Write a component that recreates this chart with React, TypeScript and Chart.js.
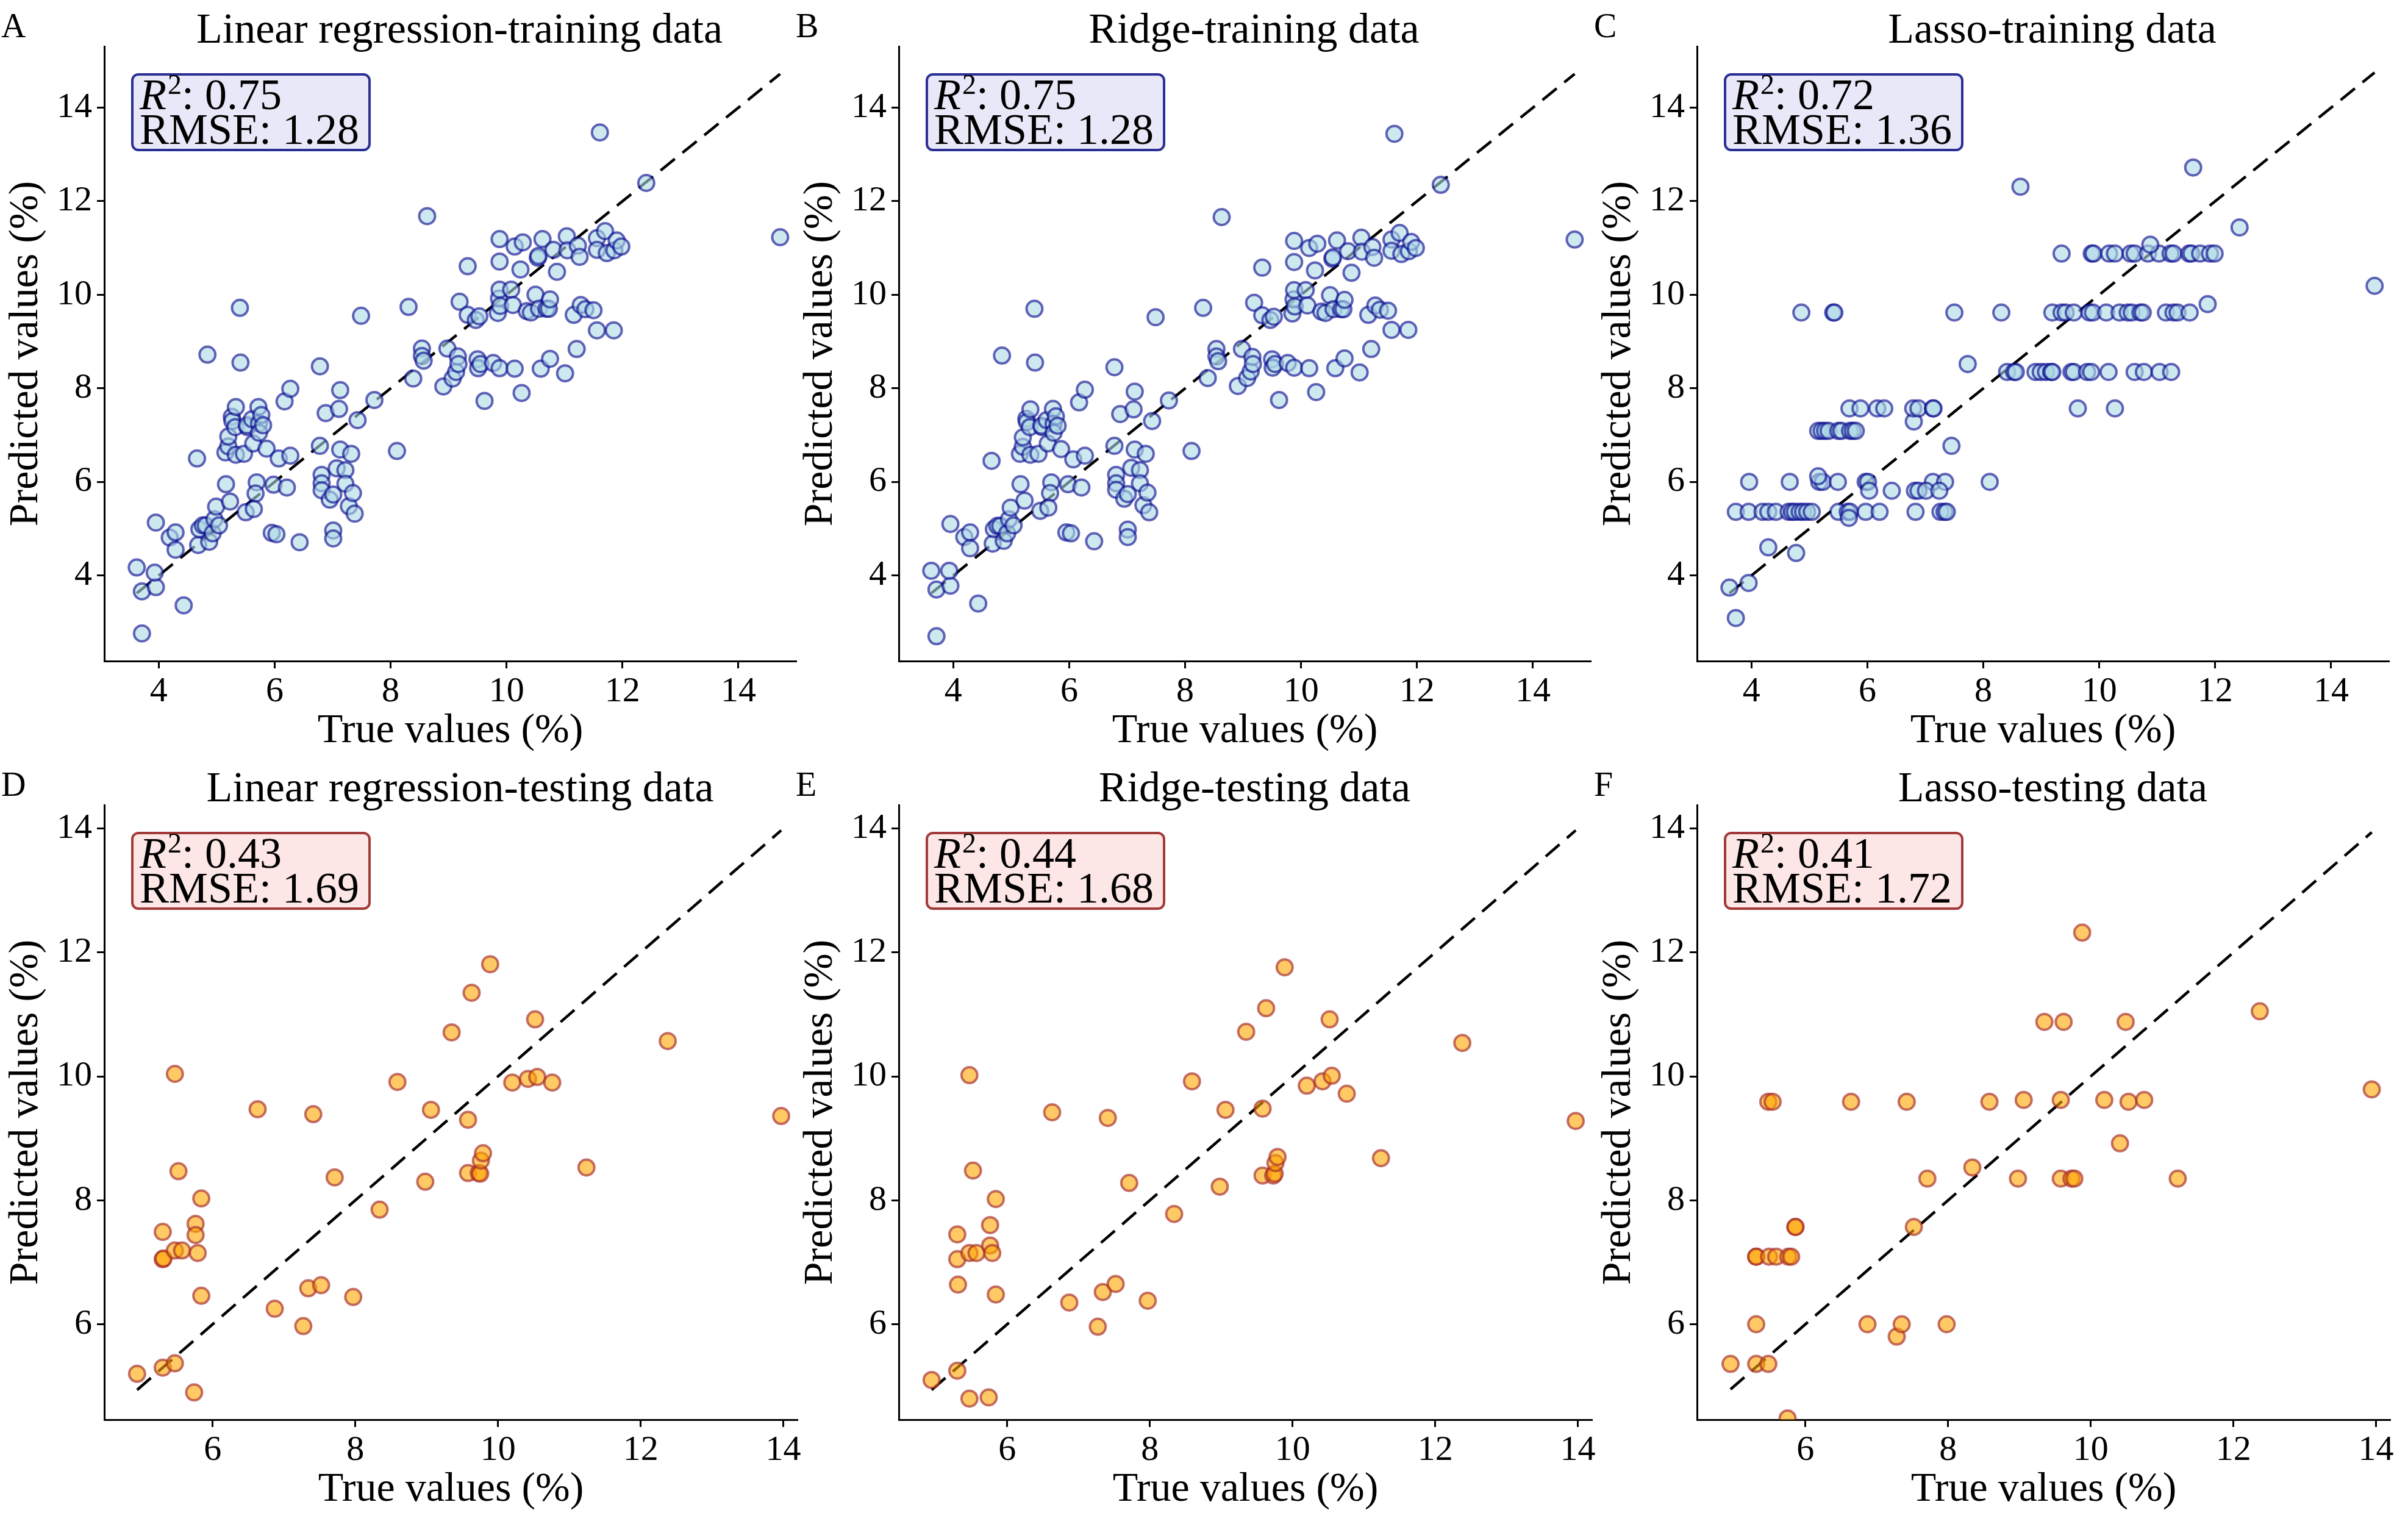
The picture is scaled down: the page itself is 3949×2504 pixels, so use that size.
import React, { useEffect, useRef } from "react";
import { Chart, registerables } from "chart.js";
Chart.register(...registerables);

const FONT = "'Liberation Serif', 'Times New Roman', Times, serif";

// ---------- Data ----------
const lrTrainTrue = [3.62,3.71,3.95,3.93,3.71,4.43,3.95,4.19,4.29,4.29,4.66,4.68,4.70,4.76,4.81,4.87,4.93,4.96,4.99,5.04,4.84,5.16,5.23,5.15,5.20,5.20,5.26,5.27,5.33,5.32,5.40,5.41,5.33,5.47,5.50,5.53,5.52,5.61,5.63,5.69,5.67,5.64,5.72,5.73,5.77,5.73,5.80,5.86,5.98,5.95,6.03,6.07,6.17,6.21,6.27,6.27,6.43,6.78,6.78,6.81,6.81,6.81,6.88,6.95,7.01,7.01,7.01,7.07,7.11,7.13,7.13,7.22,7.22,7.28,7.32,7.35,7.38,7.43,7.49,7.72,8.11,8.31,8.39,8.54,8.54,8.57,8.63,8.91,8.98,9.07,9.13,9.16,9.17,9.19,9.33,9.33,9.47,9.50,9.53,9.51,9.55,9.62,9.77,9.85,9.87,9.88,9.88,9.88,9.88,9.89,10.08,10.11,10.14,10.14,10.24,10.26,10.28,10.35,10.42,10.50,10.54,10.55,10.56,10.59,10.62,10.69,10.73,10.75,10.75,10.81,10.87,11.01,11.04,11.05,11.16,11.21,11.23,11.26,11.28,11.36,11.50,11.56,11.56,11.56,11.61,11.70,11.73,11.85,11.86,11.90,11.98,12.41,14.72];
const lrTrainPred = [4.17,3.66,3.75,4.06,2.76,3.36,5.13,4.81,4.92,4.55,6.50,4.65,4.99,5.07,5.07,4.72,4.90,5.20,5.47,5.07,8.72,5.95,5.58,6.63,6.76,6.97,7.39,7.30,7.60,7.17,9.72,8.55,6.58,6.60,5.35,7.17,7.21,7.34,6.82,5.99,5.75,5.42,7.60,7.25,7.43,7.05,7.21,6.71,5.94,4.91,4.88,6.50,7.72,5.88,7.99,6.56,4.71,8.47,6.77,6.15,5.97,5.82,7.47,5.62,5.73,4.96,4.79,6.29,7.56,7.96,6.69,6.25,5.96,5.48,6.60,5.76,5.32,7.32,9.55,7.75,6.66,9.74,8.21,8.85,8.69,8.59,11.68,8.04,8.85,8.21,8.35,8.68,8.52,9.85,10.61,9.57,9.46,8.62,9.54,8.43,8.52,7.73,8.54,9.61,9.92,11.19,10.71,10.11,8.43,9.76,10.11,9.78,8.42,11.03,10.54,7.90,11.12,9.65,9.62,10.00,10.79,10.83,9.70,8.42,11.19,9.70,9.70,9.90,8.63,10.96,10.49,8.32,11.25,10.95,9.57,8.84,11.05,10.81,9.78,9.69,9.67,9.24,11.21,10.96,13.47,11.36,10.89,9.24,10.95,11.16,11.03,12.39,11.23];
const ridgeTrainTrue = lrTrainTrue;
const ridgeTrainPred = [4.10,3.70,3.78,4.10,2.70,3.40,5.10,4.82,4.92,4.58,6.45,4.68,4.99,5.06,5.06,4.74,4.90,5.20,5.45,5.07,8.70,5.95,5.60,6.60,6.75,6.95,7.35,7.28,7.55,7.17,9.70,8.55,6.58,6.60,5.38,7.17,7.20,7.32,6.82,5.99,5.76,5.45,7.56,7.24,7.40,7.05,7.20,6.70,5.95,4.92,4.90,6.48,7.70,5.88,7.97,6.56,4.73,8.45,6.77,6.15,5.97,5.83,7.45,5.64,5.74,4.98,4.82,6.30,7.55,7.93,6.69,6.25,5.97,5.50,6.60,5.77,5.35,7.30,9.52,7.74,6.66,9.72,8.22,8.84,8.68,8.58,11.66,8.05,8.84,8.22,8.36,8.67,8.52,9.83,10.58,9.56,9.46,8.62,9.53,8.44,8.52,7.75,8.54,9.60,9.90,11.15,10.70,10.10,8.44,9.75,10.10,9.77,8.43,11.00,10.52,7.92,11.09,9.64,9.61,9.99,10.77,10.80,9.69,8.43,11.16,9.69,9.69,9.89,8.64,10.93,10.47,8.34,11.22,10.92,9.57,8.84,11.02,10.79,9.77,9.68,9.66,9.25,11.18,10.94,13.44,11.32,10.87,9.25,10.93,11.13,11.00,12.35,11.18];
const lassoTrainTrue = [3.62,3.95,3.73,4.29,4.77,
3.73,3.95,4.19,4.29,4.42,4.64,4.70,4.75,4.83,4.89,4.96,5.04,5.50,5.66,5.70,5.97,6.21,6.83,7.26,7.33,7.37,
5.68,
3.96,4.66,5.17,5.23,5.49,5.97,6.01,7.13,7.34,8.11,
5.15,
6.03,6.42,6.82,6.88,7.01,7.24,
7.45,
5.15,5.21,5.27,5.33,5.50,5.55,5.70,5.75,5.80,
6.80,
5.69,5.88,6.17,6.29,6.79,6.88,7.13,7.14,9.63,10.27,
7.73,
8.41,8.53,8.56,8.90,8.99,9.08,9.17,9.19,9.52,9.56,9.79,9.86,10.16,10.61,10.77,11.04,11.24,
4.86,5.41,5.43,7.50,8.31,9.19,9.35,9.42,9.56,9.83,9.89,10.12,10.35,10.49,10.56,10.71,10.75,11.15,11.28,11.35,11.56,
11.87,
9.35,9.87,9.90,10.17,10.27,10.54,10.61,10.84,11.03,11.23,11.28,11.55,11.59,11.74,11.91,11.99,
10.88,11.62,8.64,12.42,14.75];
const lassoTrainPred = [3.74,3.84,3.09,4.60,4.48,
5.36,5.36,5.36,5.36,5.36,5.36,5.36,5.36,5.36,5.36,5.36,5.36,5.36,5.36,5.36,5.36,5.36,5.36,5.36,5.36,5.36,
5.23,
6.00,6.00,6.00,6.00,6.00,6.00,6.00,6.00,6.00,6.00,
6.12,
5.81,5.81,5.81,5.81,5.81,5.81,
6.77,
7.09,7.09,7.09,7.09,7.09,7.09,7.09,7.09,7.09,
7.29,
7.57,7.57,7.57,7.57,7.57,7.57,7.57,7.57,7.57,7.57,
8.52,
8.35,8.35,8.35,8.35,8.35,8.35,8.35,8.35,8.35,8.35,8.35,8.35,8.35,8.35,8.35,8.35,8.35,
9.62,9.62,9.62,9.62,9.62,9.62,9.62,9.62,9.62,9.62,9.62,9.62,9.62,9.62,9.62,9.62,9.62,9.62,9.62,9.62,9.62,
9.80,
10.88,10.88,10.88,10.88,10.88,10.88,10.88,10.88,10.88,10.88,10.88,10.88,10.88,10.88,10.88,10.88,
11.07,12.72,12.31,11.44,10.19];

const testTrue = [4.94,5.30,5.47,5.74,5.30,5.30,5.31,5.47,5.57,5.47,5.52,5.76,5.76,5.79,5.84,5.84,6.63,6.87,7.27,7.34,7.41,7.52,7.71,7.97,8.34,8.59,8.98,9.06,9.35,9.58,9.58,9.63,9.73,9.75,9.76,9.79,9.89,10.20,10.42,10.52,10.55,10.76,11.24,12.38,13.97];
const lrTestPred = [5.20,5.30,5.37,4.90,7.49,7.05,7.06,7.19,7.19,10.04,8.47,7.62,7.44,7.15,8.03,6.46,9.47,6.25,5.97,6.58,9.39,6.63,8.37,6.44,7.85,9.91,8.30,9.46,10.71,9.30,8.44,11.35,8.44,8.43,8.64,8.76,11.81,9.90,9.96,10.92,9.99,9.90,8.53,10.57,9.36];
const ridgeTestPred = [5.10,5.25,4.80,4.82,7.45,7.05,6.64,7.15,7.15,10.02,8.48,7.60,7.27,7.15,8.02,6.48,9.42,6.35,5.96,6.52,9.33,6.65,8.28,6.38,7.78,9.92,8.22,9.46,10.72,9.48,8.40,11.10,8.40,8.43,8.60,8.70,11.76,9.85,9.92,10.92,10.01,9.72,8.68,10.54,9.28];
const lassoTestTrue = [4.95,5.31,5.48,5.31,5.75,5.31,5.31,5.49,5.59,5.76,5.80,5.86,5.86,5.48,5.54,6.64,6.87,7.28,7.35,7.42,7.52,7.71,7.98,8.34,8.58,8.98,9.06,9.35,9.58,9.58,9.62,9.73,9.77,9.88,10.19,10.41,10.49,10.53,10.75,11.22,12.37,13.94];
const lassoTestPred = [5.36,5.36,5.36,6.00,4.48,7.09,7.09,7.09,7.09,7.09,7.09,7.57,7.57,9.59,9.59,9.59,6.00,5.80,6.00,9.59,7.57,8.35,6.00,8.53,9.59,8.35,9.62,10.88,8.35,9.62,10.88,8.35,8.35,12.32,9.62,8.92,10.88,9.59,9.62,8.35,11.05,9.79];

const trainTicks = [4, 6, 8, 10, 12, 14];
const testTicks = [6, 8, 10, 12, 14];

const panels = [
  { letter: "A", title: "Linear regression-training data", x: lrTrainTrue, y: lrTrainPred, r2: "0.75", rmse: "1.28", kind: "train" },
  { letter: "B", title: "Ridge-training data", x: ridgeTrainTrue, y: ridgeTrainPred, r2: "0.75", rmse: "1.28", kind: "train" },
  { letter: "C", title: "Lasso-training data", x: lassoTrainTrue, y: lassoTrainPred, r2: "0.72", rmse: "1.36", kind: "train" },
  { letter: "D", title: "Linear regression-testing data", x: testTrue, y: lrTestPred, r2: "0.43", rmse: "1.69", kind: "test" },
  { letter: "E", title: "Ridge-testing data", x: testTrue, y: ridgeTestPred, r2: "0.44", rmse: "1.68", kind: "test" },
  { letter: "F", title: "Lasso-testing data", x: lassoTestTrue, y: lassoTestPred, r2: "0.41", rmse: "1.72", kind: "test" },
];

const CW = 1340, CH = 1244, YW = 171, PT = 76, XH = 160;

function Panel({ p, left, top }: any) {
  const ref = useRef<HTMLCanvasElement>(null);
  useEffect(() => {
    let chart: any = null;
    let dead = false;
    const train = p.kind === "train";
    const xr = train ? [3.06, 15.0] : [4.48, 14.2];
    const yr = train ? [2.17, 15.31] : [4.46, 14.38];
    const ticks = train ? trainTicks : testTicks;
    const pts = p.x.map((v: number, i: number) => ({ x: v, y: p.y[i] }));
    const lo = Math.min(...p.x), hi = Math.max(...p.x);
    const deco = {
      id: "deco",
      afterDraw(c: any) {
        const ctx = c.ctx;
        const a = c.chartArea;
        ctx.save();
        ctx.fillStyle = "#000";
        ctx.textBaseline = "middle";
        ctx.font = `56px ${FONT}`;
        ctx.textAlign = "left";
        ctx.fillText(p.letter, 2, 46);
        ctx.font = `70px ${FONT}`;
        ctx.textAlign = "center";
        ctx.fillText(p.title, (a.left + a.right) / 2 + 15, 52);
        const bx = a.left + 46, by = a.top + 46, bw = 389, bh = 124;
        ctx.beginPath();
        ctx.roundRect(bx, by, bw, bh, 10);
        ctx.fillStyle = train ? "#e8e8f8" : "#fde6e6";
        ctx.fill();
        ctx.lineWidth = 4;
        ctx.strokeStyle = train ? "#2b2f95" : "#a33a3a";
        ctx.stroke();
        ctx.fillStyle = "#000";
        ctx.textAlign = "left";
        ctx.textBaseline = "alphabetic";
        const tx = a.left + 58;
        ctx.font = `italic 72px ${FONT}`;
        ctx.fillText("R", tx, a.top + 103);
        let w = ctx.measureText("R").width;
        ctx.font = `46px ${FONT}`;
        ctx.fillText("2", tx + w + 2, a.top + 78);
        w += ctx.measureText("2").width + 2;
        ctx.font = `72px ${FONT}`;
        ctx.fillText(": " + p.r2, tx + w, a.top + 103);
        ctx.fillText("RMSE: " + p.rmse, tx, a.top + 160);
        ctx.restore();
      },
    };
    const axisCommon = (isX: boolean) => ({
      type: "linear",
      min: isX ? xr[0] : yr[0],
      max: isX ? xr[1] : yr[1],
      afterBuildTicks: (s: any) => { s.ticks = ticks.map((v) => ({ value: v })); },
      afterFit: (s: any) => { if (isX) s.height = XH; else s.width = YW; },
      grid: { display: true, drawOnChartArea: false, drawTicks: true, tickLength: 12, tickWidth: 3, tickColor: "#000" },
      border: { display: true, width: 3, color: "#000" },
      ticks: { font: { family: FONT, size: 58 }, color: "#000", padding: isX ? 4 : 8 },
      title: {
        display: true,
        text: isX ? "True values (%)" : "Predicted values (%)",
        font: { family: FONT, size: 68 },
        color: "#000",
        padding: isX ? { top: 0, bottom: 4 } : { top: 2, bottom: 0 },
      },
    });
    const make = () => {
      if (dead || !ref.current) return;
      chart = new Chart(ref.current, {
        type: "scatter",
        data: {
          datasets: [
            {
              type: "line",
              data: [{ x: lo, y: lo }, { x: hi, y: hi }],
              borderColor: "#000",
              borderWidth: 4.5,
              borderDash: [30, 16],
              pointRadius: 0,
              order: 2,
            } as any,
            {
              data: pts,
              pointRadius: 13,
              pointBorderWidth: 4,
              backgroundColor: train ? "rgba(173,216,230,0.6)" : "rgba(255,165,0,0.6)",
              borderColor: train ? "rgba(0,0,139,0.6)" : "rgba(165,42,42,0.65)",
              order: 1,
            },
          ],
        },
        options: {
          animation: false,
          responsive: false,
          devicePixelRatio: 1,
          layout: { padding: { top: PT, left: 0, right: CW - YW - (train ? 1135 : 1137), bottom: 0 } },
          plugins: { legend: { display: false }, tooltip: { enabled: false } },
          scales: { x: axisCommon(true) as any, y: axisCommon(false) as any },
        },
        plugins: [deco],
      });
    };
    const fl = (document as any).fonts;
    if (fl && fl.load) {
      Promise.all([
        fl.load(`56px "Liberation Serif"`),
        fl.load(`italic 56px "Liberation Serif"`),
      ]).then(make, make);
    } else make();
    return () => { dead = true; if (chart) chart.destroy(); };
  }, []);
  return (
    <canvas
      ref={ref}
      width={CW}
      height={CH}
      style={{ position: "absolute", left, top, width: CW, height: CH }}
    />
  );
}

export default function App() {
  const cols = [0, 1303, 2612];
  const rows = [0, 1244];
  return (
    <div style={{ position: "absolute", left: 0, top: 0, width: 3949, height: 2504, background: "#fff", overflow: "hidden", fontFamily: FONT }}>
      <span style={{ position: "absolute", left: -9999, fontFamily: "'Liberation Serif'" }}>.<i>.</i></span>
      {panels.map((p, i) => (
        <Panel key={i} p={p} left={cols[i % 3]} top={rows[Math.floor(i / 3)]} />
      ))}
    </div>
  );
}
